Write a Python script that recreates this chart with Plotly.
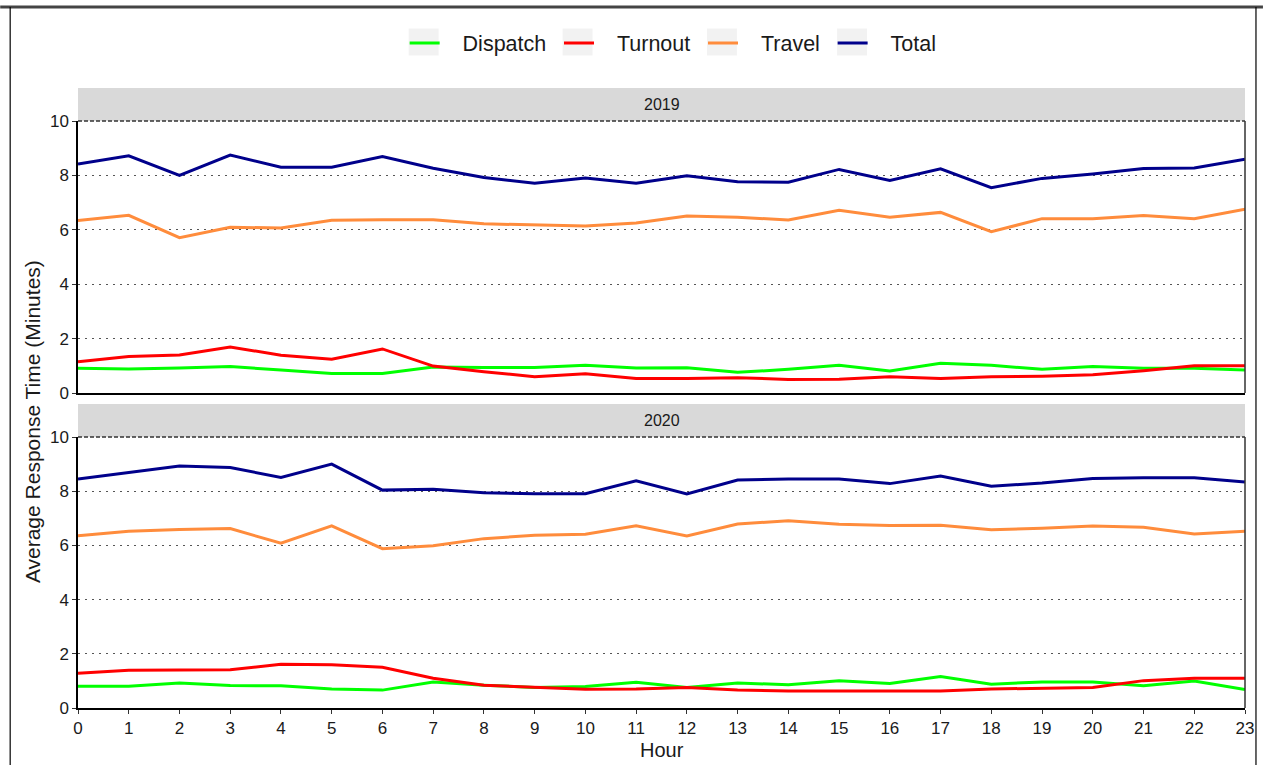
import plotly.graph_objects as go

hours = list(range(24))
tick_labels = [str(h) for h in hours]
years = ["2019", "2020"]
series_names = ["Dispatch", "Turnout", "Travel", "Total"]

dispatch_2019 = [0.91, 0.88, 0.92, 0.97, 0.85, 0.72, 0.72, 0.96, 0.94, 0.94, 1.02, 0.92,
                 0.93, 0.76, 0.87, 1.02, 0.81, 1.09, 1.02, 0.87, 0.97, 0.91, 0.91, 0.85]
turnout_2019 = [1.15, 1.34, 1.40, 1.69, 1.39, 1.24, 1.62, 0.99, 0.78, 0.60, 0.71, 0.53,
                0.53, 0.56, 0.50, 0.51, 0.60, 0.53, 0.60, 0.62, 0.67, 0.82, 1.00, 1.00]
travel_2019 = [6.34, 6.53, 5.71, 6.09, 6.07, 6.35, 6.37, 6.37, 6.22, 6.19, 6.14, 6.25,
               6.51, 6.46, 6.36, 6.72, 6.46, 6.64, 5.93, 6.41, 6.41, 6.53, 6.41, 6.76]
total_2019 = [8.42, 8.72, 8.00, 8.75, 8.30, 8.30, 8.69, 8.26, 7.92, 7.71, 7.90, 7.71,
              7.99, 7.77, 7.75, 8.22, 7.81, 8.24, 7.55, 7.89, 8.05, 8.25, 8.27, 8.59]

dispatch_2020 = [0.80, 0.80, 0.92, 0.83, 0.82, 0.70, 0.66, 0.96, 0.84, 0.76, 0.79, 0.95,
                 0.76, 0.92, 0.86, 1.01, 0.90, 1.16, 0.88, 0.96, 0.96, 0.82, 1.00, 0.68]
turnout_2020 = [1.28, 1.39, 1.40, 1.41, 1.61, 1.60, 1.50, 1.10, 0.84, 0.76, 0.69, 0.70,
                0.76, 0.66, 0.63, 0.63, 0.63, 0.63, 0.70, 0.72, 0.76, 1.01, 1.10, 1.10]
travel_2020 = [6.36, 6.52, 6.59, 6.62, 6.08, 6.72, 5.88, 5.99, 6.25, 6.37, 6.41, 6.72,
               6.35, 6.79, 6.91, 6.78, 6.73, 6.74, 6.58, 6.63, 6.72, 6.67, 6.42, 6.52]
total_2020 = [8.45, 8.70, 8.93, 8.87, 8.51, 9.00, 8.04, 8.07, 7.94, 7.91, 7.91, 8.38,
              7.90, 8.41, 8.45, 8.45, 8.28, 8.56, 8.18, 8.30, 8.47, 8.50, 8.50, 8.34]

colors = {"Dispatch": "#00FF00", "Turnout": "#FF0000", "Travel": "#FF8C3C", "Total": "#00008B"}

data_by_year = {
    "2019": [dispatch_2019, turnout_2019, travel_2019, total_2019],
    "2020": [dispatch_2020, turnout_2020, travel_2020, total_2020],
}

W, H = 1266, 765
L, R, T, B = 78, 18, 88, 57
PW = W - L - R
PH = H - T - B


def py(px):  # pixel y (from top) -> paper y
    return (H - B - px) / PH


def px_(x):  # pixel x -> paper x
    return (x - L) / PW


LEG_FS = 21.5
# Arial/Liberation Sans advance widths (em) for estimating legend text widths
ADV = {"D": .722, "T": .611, "i": .222, "s": .5, "p": .556, "a": .556, "t": .278,
       "c": .5, "h": .556, "u": .556, "r": .333, "n": .556, "o": .556, "v": .5,
       "e": .556, "l": .222, "\u00a0": .278, "\u200a": .083}


def text_w(s):
    return sum(ADV.get(ch, .556) for ch in s) * LEG_FS


PAD = "\u00a0\u00a0\u00a0"
TRAIL = "\u00a0\u200a"
fig = go.Figure()
axes = {"2019": ("x2", "y2"), "2020": ("x", "y")}
for yr in years:
    xa, ya = axes[yr]
    for name, vals in zip(series_names, data_by_year[yr]):
        fig.add_trace(go.Scatter(
            x=hours, y=vals, mode="lines", name=PAD + name + TRAIL,
            line=dict(color=colors[name], width=3),
            xaxis=xa, yaxis=ya,
            showlegend=(yr == "2019"), legendgroup=name,
        ))

FONT = "Liberation Sans, Arial, sans-serif"
grid = dict(showgrid=True, gridcolor="#555555", griddash="2px,5px", gridwidth=1.3)
yax = dict(range=[0, 10], tickvals=[0, 2, 4, 6, 8, 10], ticks="outside", ticklen=4,
           tickcolor="#333333", tickfont=dict(size=17, color="#1a1a1a", family=FONT),
           showline=True, linecolor="#000000", linewidth=1.5, zeroline=False, **grid)
xax_common = dict(range=[0, 23], tickvals=hours, ticktext=tick_labels, showgrid=False,
                  zeroline=False, showline=True, linecolor="#000000", linewidth=1.5)

ITEM0 = 404.5       # px start of first legend item
fig.update_layout(
    width=W, height=H,
    margin=dict(l=L, r=R, t=T, b=B),
    paper_bgcolor="white", plot_bgcolor="white",
    font=dict(family=FONT, color="#1a1a1a"),
    xaxis=dict(domain=[0, 1], anchor="y", ticks="outside", ticklen=4, tickcolor="#333333",
               tickfont=dict(size=17, color="#1a1a1a", family=FONT), **xax_common),
    xaxis2=dict(domain=[0, 1], anchor="y2", matches="x", showticklabels=False,
                ticks="", **xax_common),
    yaxis=dict(domain=[0, py(437)], anchor="x", **yax),
    yaxis2=dict(domain=[py(393), py(121)], anchor="x2", **yax),
    legend=dict(orientation="h", x=px_(ITEM0 + 1), xanchor="left", y=py(43), yanchor="middle",
                font=dict(size=LEG_FS, family=FONT, color="#1a1a1a"), itemwidth=30,
                traceorder="normal", bgcolor="rgba(0,0,0,0)"),
    showlegend=True,
)

shapes = []
# legend key background boxes (follow the legend item layout)
s = ITEM0
for name in series_names:
    cx = s + 20
    shapes.append(dict(type="rect", xref="paper", yref="paper", x0=px_(cx - 15),
                       x1=px_(cx + 15), y0=py(55.5), y1=py(28.5), fillcolor="#F2F2F2",
                       line=dict(width=0), layer="below"))
    s += text_w(PAD + name + TRAIL) + 45
# facet strips
for (top, bot) in [(88, 121), (404, 437)]:
    shapes.append(dict(type="rect", xref="paper", yref="paper", x0=0, x1=1,
                       y0=py(bot), y1=py(top), fillcolor="#D9D9D9", line=dict(width=0),
                       layer="below"))
# panel right/top borders
for xa, ya in [("x", "y"), ("x2", "y2")]:
    shapes.append(dict(type="line", xref=f"{xa} domain", yref=f"{ya} domain",
                       x0=1, x1=1, y0=0, y1=1, line=dict(color="#333333", width=1.5)))
    shapes.append(dict(type="line", xref=f"{xa} domain", yref=f"{ya} domain",
                       x0=0, x1=1, y0=1, y1=1, line=dict(color="#333333", width=1.5, dash="4px,2px")))
# outer figure border
shapes.append(dict(type="line", xref="paper", yref="paper", x0=px_(0), x1=px_(W),
                   y0=py(7), y1=py(7), line=dict(color="#444444", width=3)))
shapes.append(dict(type="line", xref="paper", yref="paper", x0=px_(10), x1=px_(10),
                   y0=py(7), y1=py(H + 5), line=dict(color="#000000", width=1.2)))
shapes.append(dict(type="line", xref="paper", yref="paper", x0=px_(1259), x1=px_(1259),
                   y0=py(7), y1=py(H + 5), line=dict(color="#000000", width=1.2)))
fig.update_layout(shapes=shapes)

annotations = [
    dict(text="2019", x=0.5, y=py(104.5), xref="paper", yref="paper", showarrow=False,
         font=dict(size=16, family=FONT, color="#1a1a1a"), xanchor="center", yanchor="middle"),
    dict(text="2020", x=0.5, y=py(420.5), xref="paper", yref="paper", showarrow=False,
         font=dict(size=16, family=FONT, color="#1a1a1a"), xanchor="center", yanchor="middle"),
    dict(text="Average Response Time (Minutes)", x=px_(32), y=py(422), xref="paper",
         yref="paper", showarrow=False, textangle=-90,
         font=dict(size=21, family=FONT, color="#1a1a1a"), xanchor="center", yanchor="middle"),
    dict(text="Hour", x=px_(664), y=py(750), xref="paper", yref="paper", showarrow=False,
         font=dict(size=20, family=FONT, color="#1a1a1a"), xanchor="center", yanchor="middle"),
]
fig.update_layout(annotations=annotations)

fig.write_html("out.html", config={"displayModeBar": False},
               post_script="document.body.style.margin='0';document.body.style.overflow='hidden';")
